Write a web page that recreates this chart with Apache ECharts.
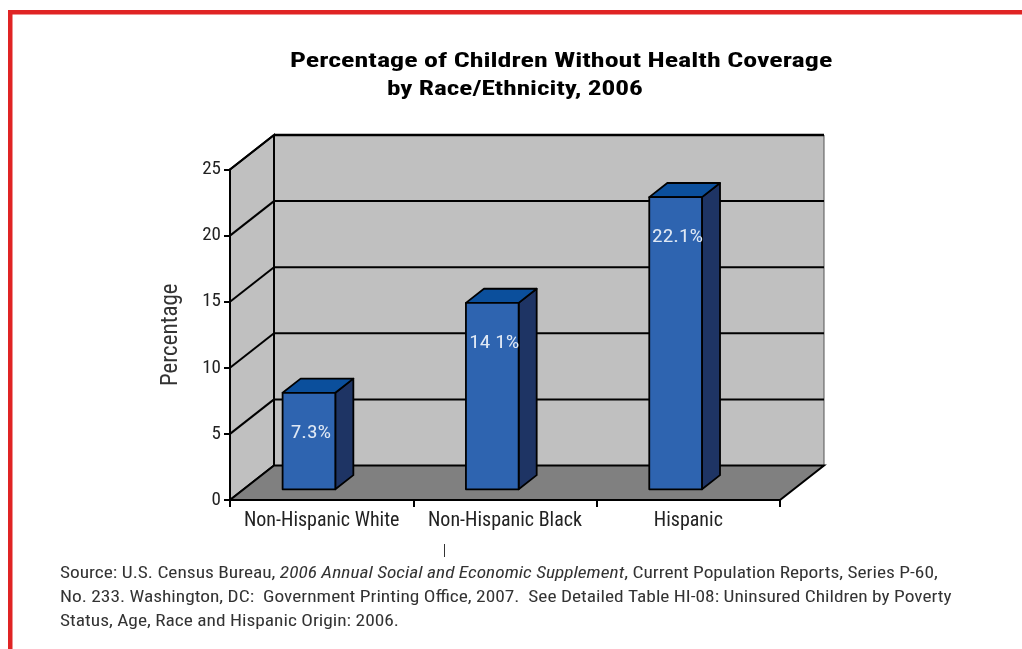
<!DOCTYPE html>
<html><head><meta charset="utf-8">
<script src="https://cdn.jsdelivr.net/npm/echarts@6/dist/echarts.min.js"></script>
<style>html,body{margin:0;padding:0;background:#fff}#c{width:1022px;height:649px}</style>
</head><body><div id="c"></div>
<script>
// ---- data ----
const categories = ['Non-Hispanic White', 'Non-Hispanic Black', 'Hispanic'];
const values = [7.3, 14.1, 22.1];
const valueLabels = ['7.3%', '14 1%', '22.1%'];
const yTicks = [0, 5, 10, 15, 20, 25];
const titleLine1 = 'Percentage of Children Without Health Coverage';
const titleLine2 = 'by Race/Ethnicity, 2006';
const yAxisName = 'Percentage';
const sourcePre = 'Source: U.S. Census Bureau, ';
const sourceItalic = '2006 Annual Social and Economic Supplement';
const sourcePost = ', Current Population Reports, Series P-60,';
const sourceLine2 = 'No. 233. Washington, DC:  Government Printing Office, 2007.  See Detailed Table HI-08: Uninsured Children by Poverty';
const sourceLine3 = 'Status, Age, Race and Hispanic Origin: 2006.';

// ---- styling ----
const NARROW = '"Liberation Sans Narrow", "Arial Narrow", "Roboto Condensed", sans-serif';
const DX = 44, DY = -34.5;           // depth offset of back wall
const BAR_D0 = 0.31, BAR_D1 = 0.41; // bar front depth fraction, bar depth fraction
const BAR_W = 0.2875;                // bar width fraction of category

const chart = echarts.init(document.getElementById('c'), null, {renderer: 'canvas'});

function renderWalls(params, api) {
  const cs = params.coordSys;
  const x0 = cs.x, x1 = cs.x + cs.width, yT = cs.y, yB = cs.y + cs.height;
  return {
    type: 'group', children: [
      {type: 'rect', shape: {x: x0 + DX, y: yT + DY, width: cs.width, height: cs.height},
        style: {fill: '#c0c0c0', stroke: '#555', lineWidth: 1}},
      {type: 'line', shape: {x1: x0 + DX, y1: yT + DY, x2: x1 + DX, y2: yT + DY},
        style: {stroke: '#000', lineWidth: 2.5}},
      {type: 'polygon', shape: {points: [[x0, yB], [x0, yT], [x0 + DX, yT + DY], [x0 + DX, yB + DY]]},
        style: {fill: '#c0c0c0', stroke: '#000', lineWidth: 2}},
      {type: 'polygon', shape: {points: [[x0, yB], [x1, yB], [x1 + DX, yB + DY], [x0 + DX, yB + DY]]},
        style: {fill: '#808080', stroke: '#000', lineWidth: 2}}
    ]
  };
}

function renderGrid(params, api) {
  const cs = params.coordSys;
  const x0 = cs.x, x1 = cs.x + cs.width;
  const y = api.coord([0, api.value(1)])[1];
  return {
    type: 'group', children: [
      {type: 'line', shape: {x1: x0, y1: y, x2: x0 + DX, y2: y + DY}, style: {stroke: '#000', lineWidth: 2}},
      {type: 'line', shape: {x1: x0 + DX, y1: y + DY, x2: x1 + DX, y2: y + DY}, style: {stroke: '#000', lineWidth: 2}}
    ]
  };
}

function renderBar(params, api) {
  const c = api.coord([api.value(0), api.value(1)]);
  const base = api.coord([api.value(0), 0]);
  const cw = api.size([1, 0])[0];
  const fx0 = c[0] - BAR_W * cw + BAR_D0 * DX;
  const fx1 = c[0] + BAR_D0 * DX;
  const fyT = c[1] + BAR_D0 * DY;
  const fyB = base[1] + BAR_D0 * DY;
  const bdx = BAR_D1 * DX, bdy = BAR_D1 * DY;
  const st = {stroke: '#000', lineWidth: 1.8, lineJoin: 'round'};
  return {
    type: 'group', children: [
      {type: 'polygon', shape: {points: [[fx1, fyT], [fx1 + bdx, fyT + bdy], [fx1 + bdx, fyB + bdy], [fx1, fyB]]},
        style: Object.assign({fill: '#1e3464'}, st)},
      {type: 'polygon', shape: {points: [[fx0, fyT], [fx1, fyT], [fx1 + bdx, fyT + bdy], [fx0 + bdx, fyT + bdy]]},
        style: Object.assign({fill: '#0b4f9c'}, st)},
      {type: 'rect', shape: {x: fx0, y: fyT, width: fx1 - fx0, height: fyB - fyT},
        style: Object.assign({fill: '#2e64b0'}, st)},
      {type: 'text', x: (fx0 + fx1) / 2 + 2, y: fyT + 40, scaleX: 1.13,
        style: {text: valueLabels[params.dataIndex], fill: '#dfe8f4', font: '19px ' + NARROW,
          align: 'center', verticalAlign: 'middle'}}
    ]
  };
}

chart.setOption({
  animation: false,
  backgroundColor: '#fff',
  grid: {left: 230, top: 169.5, width: 550, height: 330.5},
  xAxis: {
    type: 'category', data: categories, z: 10,
    axisLine: {show: true, lineStyle: {color: '#000', width: 2}},
    axisTick: {show: true, length: 7, lineStyle: {color: '#000', width: 2}},
    axisLabel: {fontFamily: NARROW, fontSize: 20, color: '#222', margin: 11, interval: 0, hideOverlap: false}
  },
  yAxis: {
    type: 'value', min: 0, max: 25, interval: 5, z: 10,
    name: yAxisName, nameLocation: 'middle', nameGap: 47, nameRotate: 90,
    nameTextStyle: {fontFamily: NARROW, fontSize: 23, color: '#333'},
    axisLine: {show: true, lineStyle: {color: '#000', width: 2}},
    axisTick: {show: true, length: 6, lineStyle: {color: '#000', width: 2}},
    axisLabel: {fontFamily: NARROW, fontSize: 19, color: '#222', margin: 9},
    splitLine: {show: false}
  },
  graphic: [
    {type: 'rect', left: 8, top: 10, shape: {width: 1014, height: 4.5}, style: {fill: '#e02424'}, z: 100},
    {type: 'rect', left: 8, top: 10, shape: {width: 4.5, height: 639}, style: {fill: '#e02424'}, z: 100},
    {type: 'text', x: 290, y: 51, scaleX: 1.335, style: {text: titleLine1, align: 'left', verticalAlign: 'top',
      font: 'bold 21px ' + NARROW, fill: '#000'}},
    {type: 'text', x: 387, y: 79, scaleX: 1.3, style: {text: titleLine2, align: 'left', verticalAlign: 'top',
      font: 'bold 21px ' + NARROW, fill: '#000'}},
    {type: 'line', shape: {x1: 444.5, y1: 544, x2: 444.5, y2: 557}, style: {stroke: '#333', lineWidth: 1}},
    {type: 'text', x: 60, y: 562, scaleX: 1.21, style: {
      text: '{n|' + sourcePre + '}{i|' + sourceItalic + '}{n|' + sourcePost + '}\n{n|' + sourceLine2 + '}\n{n|' + sourceLine3 + '}',
      align: 'left', verticalAlign: 'top',
      rich: {
        n: {font: '16px ' + NARROW, fill: '#333', lineHeight: 24},
        i: {font: 'italic 16px ' + NARROW, fill: '#333', lineHeight: 24}
      }
    }}
  ],
  series: [
    {type: 'custom', renderItem: renderWalls, data: [[0, 0]], z: 1, silent: true},
    {type: 'custom', renderItem: renderGrid, data: yTicks.slice(1).map(v => [0, v]), z: 2, silent: true},
    {type: 'custom', renderItem: renderBar, data: values.map((v, i) => [i, v]), z: 3}
  ]
});
</script>
</body></html>
